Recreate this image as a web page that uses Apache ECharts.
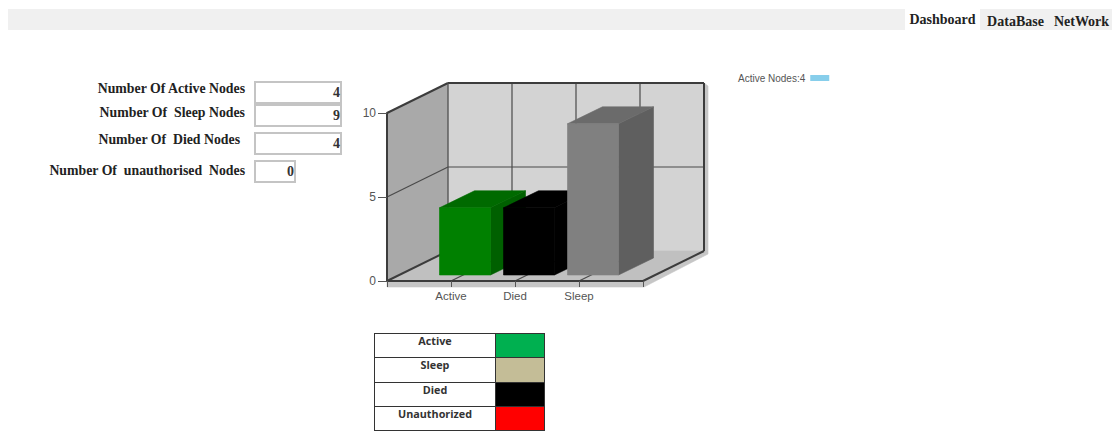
<!DOCTYPE html>
<html>
<head>
<meta charset="utf-8">
<title>Dashboard</title>
<script src="https://cdn.jsdelivr.net/npm/echarts@6/dist/echarts.min.js"></script>
<style>
  html, body { margin: 0; padding: 0; background: #fff; width: 1112px; height: 441px; overflow: hidden; }
  #chart { position: absolute; left: 0; top: 0; width: 1112px; height: 441px; }
  .box { position: absolute; box-sizing: border-box; }
  .tabbar { left: 8px; top: 9px; width: 1104px; height: 21px; background: #f0f0f0; }
  .tab { position: absolute; top: 9px; height: 21px; text-align: center;
         font: bold 14px/21px "Liberation Serif", serif; color: #222; }
  .label { position: absolute; white-space: pre; text-align: right;
           font: bold 13.8px "Liberation Serif", serif; color: #222; }
  .field { position: absolute; box-sizing: border-box; background: #fff; border: 2px solid #c4c4c4;
           text-align: right; padding-right: 0; font: bold 14px "Liberation Serif", serif; color: #333; }
  table.key { position: absolute; left: 374px; top: 333px; width: 171px; height: 98px;
              border-collapse: collapse; table-layout: fixed; }
  table.key td { border: 1px solid #333; padding: 0; text-align: center; vertical-align: top; height: 24px; box-sizing: border-box;
                 font: bold 10.8px/14px "Open Sans", sans-serif; color: #333; }
  table.key td.name { width: 121px; }
</style>
</head>
<body>
<div class="box tabbar"></div>
<div id="tabs"></div>
<div id="form"></div>
<table class="key" id="key"></table>
<div id="chart"></div>
<script>
// Node status counts shown in the 3D column chart
const categories = ['Active', 'Died', 'Sleep'];
const nodeCounts = [4, 4, 9];
const frontColors = ['#008000', '#000000', '#808080'];
const topColors = ['#006a00', '#000000', '#6b6b6b'];
const sideColors = ['#006000', '#000000', '#5f5f5f'];
const yTicks = { min: 0, max: 10, step: 5 };
const seriesName = 'Active Nodes:4';

// Form fields above the chart
const formLabels = ['Number Of Active Nodes', 'Number Of  Sleep Nodes', 'Number Of  Died Nodes', 'Number Of  unauthorised  Nodes'];
const formValues = [4, 9, 4, 0];
const formLabelRight = [245, 245, 240, 245];
const formLabelTops = [81, 105, 132, 163];
const formTops = [81, 104, 132, 160];
const formWidths = [88, 88, 88, 42];

// Status key under the chart
const keyNames = ['Active', 'Sleep', 'Died', 'Unauthorized'];
const keyColors = ['#00b050', '#c4bd97', '#000000', '#ff0000'];

// Navigation tabs
const tabNames = ['Dashboard', 'DataBase', 'NetWork'];
const tabLefts = [905, 980, 1051];
const tabWidths = [75, 71, 61];
const tabTextTops = [-1, 1, 1];
const tabBackgrounds = ['#ffffff', '#f0f0f0', '#f0f0f0'];

tabNames.forEach(function (name, i) {
  const el = document.createElement('div');
  el.className = 'tab';
  el.textContent = name;
  el.style.left = tabLefts[i] + 'px';
  el.style.width = tabWidths[i] + 'px';
  el.style.background = tabBackgrounds[i];
  el.style.paddingTop = (tabTextTops[i] + 1) + 'px';
  el.style.height = (20 - tabTextTops[i]) + 'px';
  document.getElementById('tabs').appendChild(el);
});

formLabels.forEach(function (text, i) {
  const label = document.createElement('div');
  label.className = 'label';
  label.textContent = text;
  label.style.right = (1112 - formLabelRight[i]) + 'px';
  label.style.top = formLabelTops[i] + 'px';
  const field = document.createElement('div');
  field.className = 'field';
  field.textContent = formValues[i];
  field.style.left = '254px';
  field.style.top = formTops[i] + 'px';
  field.style.width = formWidths[i] + 'px';
  field.style.height = '23px';
  field.style.lineHeight = '19px';
  const form = document.getElementById('form');
  form.appendChild(label);
  form.appendChild(field);
});

keyNames.forEach(function (name, i) {
  const row = document.createElement('tr');
  row.innerHTML = '<td class="name">' + name + '</td><td style="background:' + keyColors[i] + '"></td>';
  document.getElementById('key').appendChild(row);
});

// Oblique projection offsets of the chart box and of the columns inside it
const WALL_DX = 61, WALL_DY = -30;
const BAR_SHIFT_X = 14, BAR_SHIFT_Y = -6, BAR_WIDTH = 51, BAR_DX = 35, BAR_DY = -17;
const EDGE = { stroke: '#3c3c3c', lineWidth: 2 };
const GRIDLINE = { stroke: '#4a4a4a', lineWidth: 1.2 };

function poly(points, fill) {
  return { type: 'polygon', shape: { points: points }, style: { fill: fill, stroke: fill, lineWidth: 0.6 } };
}
function line(a, b, style) {
  return { type: 'line', shape: { x1: a[0], y1: a[1], x2: b[0], y2: b[1] }, style: style };
}
function back(p) {
  return [p[0] + WALL_DX, p[1] + WALL_DY];
}

// Walls, floor and gridlines, placed from the axis scales
function renderBox(params, api) {
  const lastIndex = categories.length + 1;
  const bl = api.coord([0, yTicks.min]);
  const tl = api.coord([0, yTicks.max]);
  const br = api.coord([lastIndex, yTicks.min]);
  const tr = api.coord([lastIndex, yTicks.max]);
  const mid = api.coord([0, yTicks.step]);
  const midR = api.coord([lastIndex, yTicks.step]);
  const children = [
    // soft drop edge along the right and front of the box
    poly([[back(tr)[0], back(tr)[1]], [back(tr)[0] + 4, back(tr)[1] + 3], [back(br)[0] + 4, back(br)[1] + 3], [br[0] + 1, br[1] + 6], [bl[0], bl[1] + 6], [bl[0], bl[1]], [br[0], br[1]], [back(br)[0], back(br)[1]]], '#c6c6c6'),
    poly([back(tl), back(tr), back(br), back(bl)], '#d3d3d3'),
    poly([tl, back(tl), back(bl), bl], '#a9a9a9'),
    poly([bl, back(bl), back(br), br], '#c0c0c0')
  ];
  // vertical back-wall lines and floor lines at each category
  for (let i = 1; i <= categories.length; i++) {
    const p = api.coord([i, yTicks.min]);
    const q = api.coord([i, yTicks.max]);
    children.push(line(back(p), back(q), GRIDLINE));
    children.push(line(p, back(p), GRIDLINE));
  }
  children.push(line(mid, back(mid), GRIDLINE));
  children.push(line(back(mid), back(midR), GRIDLINE));
  children.push(line(tl, back(tl), EDGE));
  children.push(line(back(tl), back(tr), EDGE));
  children.push(line(back(tr), back(br), EDGE));
  children.push(line(back(tl), back(bl), GRIDLINE));
  children.push(line(br, back(br), EDGE));
  children.push(line(bl, back(bl), EDGE));
  return { type: 'group', children: children };
}

// One column: front, top and side faces
function renderColumn(params, api) {
  const i = params.dataIndex;
  const top = api.coord([api.value(0), api.value(1)]);
  const base = api.coord([api.value(0), 0]);
  const x0 = top[0] + BAR_SHIFT_X - BAR_WIDTH / 2;
  const x1 = x0 + BAR_WIDTH;
  const y0 = top[1] + BAR_SHIFT_Y;
  const y1 = base[1] + BAR_SHIFT_Y;
  return {
    type: 'group',
    children: [
      poly([[x1, y0], [x1 + BAR_DX, y0 + BAR_DY], [x1 + BAR_DX, y1 + BAR_DY], [x1, y1]], sideColors[i]),
      poly([[x0, y0], [x0 + BAR_DX, y0 + BAR_DY], [x1 + BAR_DX, y0 + BAR_DY], [x1, y0]], topColors[i]),
      poly([[x0, y0], [x1, y0], [x1, y1], [x0, y1]], frontColors[i])
    ]
  };
}

const chart = echarts.init(document.getElementById('chart'), null, { renderer: 'svg' });
chart.setOption({
  animation: false,
  backgroundColor: 'transparent',
  grid: { left: 387, top: 113, width: 256, height: 168 },
  legend: {
    left: 738, top: 73,
    padding: 0,
    align: 'right',
    itemWidth: 19, itemHeight: 6, itemGap: 0,
    icon: 'rect',
    selectedMode: false,
    textStyle: { fontFamily: 'Liberation Sans', fontSize: 10, color: '#555' },
    data: [seriesName]
  },
  xAxis: {
    type: 'category',
    boundaryGap: false,
    data: [''].concat(categories, ['']),
    z: 5,
    axisLine: { lineStyle: { color: '#3c3c3c', width: 2 } },
    axisTick: { length: 6, alignWithLabel: true, lineStyle: { color: '#555' } },
    axisLabel: { interval: 0, margin: 9, fontFamily: 'Liberation Sans', fontSize: 11.5, color: '#555' },
    splitLine: { show: false }
  },
  yAxis: {
    type: 'value',
    min: yTicks.min, max: yTicks.max, interval: yTicks.step,
    z: 5,
    axisLine: { show: true, lineStyle: { color: '#3c3c3c', width: 2 } },
    axisTick: { show: true, length: 9, lineStyle: { color: '#555' } },
    axisLabel: { margin: 11, fontFamily: 'Liberation Sans', fontSize: 12, color: '#555' },
    splitLine: { show: false }
  },
  series: [
    { type: 'custom', name: 'box', silent: true, clip: false, z: 1, renderItem: renderBox, data: [[0, 0]] },
    {
      type: 'custom',
      name: seriesName,
      clip: false,
      z: 3,
      itemStyle: { color: '#87ceeb' },
      renderItem: renderColumn,
      encode: { x: 0, y: 1 },
      data: nodeCounts.map(function (v, i) { return [i + 1, v]; })
    }
  ]
});
</script>
</body>
</html>
